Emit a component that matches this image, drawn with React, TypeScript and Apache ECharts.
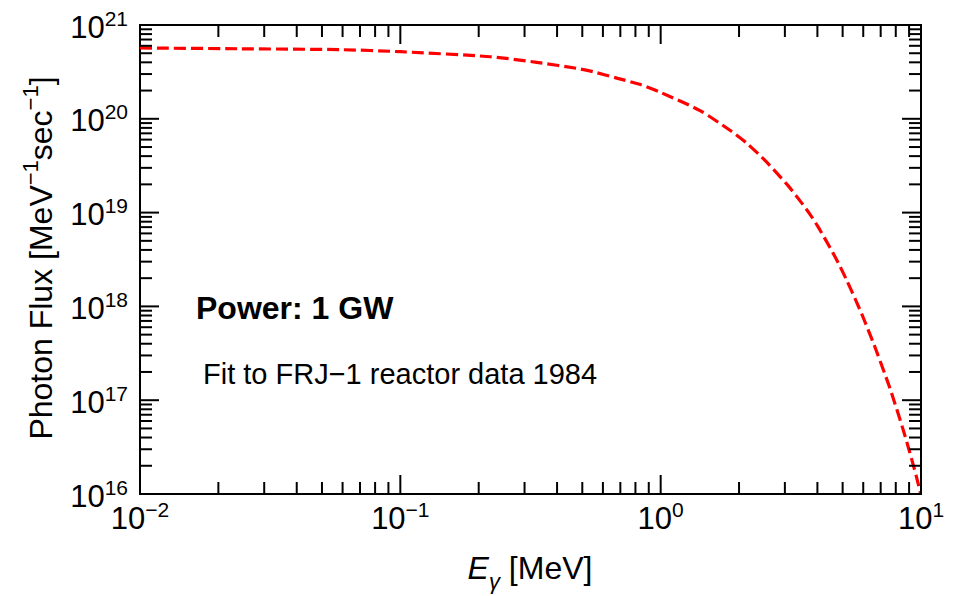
import React, { useEffect, useRef } from "react";
import * as echarts from "echarts";

const energy = [0.01, 0.0242, 0.0586, 0.1, 0.221, 0.334, 0.476, 0.549, 0.684, 0.83, 1.0, 1.41, 1.84, 2.14, 2.55, 3.08, 3.42, 3.73, 4.02, 4.34, 4.59, 4.86, 5.18, 5.65, 5.98, 6.52, 6.73, 7.57, 8.51, 9.04, 9.59, 9.95];
const flux = [5.69e20, 5.58e20, 5.46e20, 5.19e20, 4.59e20, 4.0e20, 3.45e20, 3.18e20, 2.7e20, 2.33e20, 1.91e20, 1.23e20, 7.59e19, 5.5e19, 3.47e19, 1.95e19, 1.35e19, 9.77e18, 7.08e18, 4.9e18, 3.72e18, 2.75e18, 1.91e18, 1.12e18, 7.76e17, 4.27e17, 3.39e17, 1.38e17, 5.01e16, 2.82e16, 1.55e16, 1.02e16];

const xDecades = [-2, -1, 0, 1];
const yDecades = [16, 17, 18, 19, 20, 21];
const minorMultipliers = [2, 3, 4, 5, 6, 7, 8, 9];

const xMin = 0.01, xMax = 10, yMin = 1e16, yMax = 1e21;

const FONT = "'Liberation Sans', Arial, Helvetica, sans-serif";

function buildTicks(decades: number[], maxVal: number) {
  const out: [number, number][] = [];
  decades.forEach((d) => {
    const base = Math.pow(10, d);
    out.push([base, 1]);
    minorMultipliers.forEach((m) => {
      const v = m * base;
      if (v < maxVal * 0.999) out.push([v, 0]);
    });
  });
  return out;
}

const expLabel = (v: number) => {
  const e = Math.round(Math.log10(v));
  const s = e < 0 ? "\u2212" + -e : String(e);
  return `{b|10}{s|${s}}`;
};

const labelRich = {
  b: { fontSize: 31, fontFamily: FONT, color: "#000", lineHeight: 35, verticalAlign: "bottom" },
  s: { fontSize: 21, fontFamily: FONT, color: "#000", lineHeight: 35, verticalAlign: "top" },
};

export default function App() {
  const ref = useRef<HTMLDivElement>(null);
  useEffect(() => {
    document.body.style.margin = "0";
    const chart = echarts.init(ref.current!, null, { renderer: "svg" });
    const xTicks = buildTicks(xDecades, xMax).map(([v, m]) => [v, yMin, m]);
    const yTicks = buildTicks(yDecades, yMax).map(([v, m]) => [xMin, v, m]);
    const TW = 2;
    chart.setOption({
      animation: false,
      grid: { left: 140, top: 25, width: 781, height: 469, show: true, borderColor: "#000", borderWidth: 2, backgroundColor: "transparent" },
      xAxis: {
        type: "log", logBase: 10, min: xMin, max: xMax, interval: 1,
        axisLine: { lineStyle: { color: "#000", width: 2 } },
        axisTick: { show: false }, splitLine: { show: false }, minorTick: { show: false },
        axisLabel: { formatter: expLabel, rich: labelRich, margin: 5 },
      },
      yAxis: {
        type: "log", logBase: 10, min: yMin, max: yMax, interval: 1,
        axisLine: { lineStyle: { color: "#000", width: 2 } },
        axisTick: { show: false }, splitLine: { show: false }, minorTick: { show: false },
        axisLabel: { formatter: expLabel, rich: labelRich, margin: 12 },
      },
      series: [
        {
          type: "line",
          data: energy.map((e, i) => [e, flux[i]]),
          showSymbol: false,
          smooth: 0.25,
          lineStyle: { color: "#ff0000", width: 3.2, type: [12, 5] },
          z: 3,
        },
        {
          type: "custom", silent: true, data: xTicks, z: 4,
          renderItem: (params: any, api: any) => {
            const v = api.value(0);
            const len = api.value(2) ? 19 : 12;
            const p = api.coord([v, yMin]);
            const cs = params.coordSys;
            const bottom = cs.y + cs.height;
            return {
              type: "group",
              children: [
                { type: "line", shape: { x1: p[0], y1: bottom, x2: p[0], y2: bottom - len }, style: { stroke: "#000", lineWidth: TW } },
                { type: "line", shape: { x1: p[0], y1: cs.y, x2: p[0], y2: cs.y + len }, style: { stroke: "#000", lineWidth: TW } },
              ],
            };
          },
        },
        {
          type: "custom", silent: true, data: yTicks, z: 4,
          renderItem: (params: any, api: any) => {
            const v = api.value(1);
            const len = api.value(2) ? 19 : 12;
            const p = api.coord([xMin, v]);
            const cs = params.coordSys;
            const right = cs.x + cs.width;
            return {
              type: "group",
              children: [
                { type: "line", shape: { x1: cs.x, y1: p[1], x2: cs.x + len, y2: p[1] }, style: { stroke: "#000", lineWidth: TW } },
                { type: "line", shape: { x1: right, y1: p[1], x2: right - len, y2: p[1] }, style: { stroke: "#000", lineWidth: TW } },
              ],
            };
          },
        },
      ],
      graphic: [
        {
          type: "text", x: 196, y: 308,
          style: { text: "Power: 1 GW", font: `bold 32px ${FONT}`, fill: "#000", align: "left", verticalAlign: "middle" },
        },
        {
          type: "text", x: 203, y: 374,
          style: { text: "Fit to FRJ\u22121 reactor data 1984", font: `29px ${FONT}`, fill: "#000", align: "left", verticalAlign: "middle" },
        },
        {
          type: "text", x: 530, y: 572,
          style: {
            text: "{i|E}{g|\u03b3}{n| [MeV]}",
            align: "center", verticalAlign: "middle",
            rich: {
              i: { fontSize: 32, fontStyle: "italic", fontFamily: FONT, color: "#000", lineHeight: 40, verticalAlign: "top" },
              g: { fontSize: 22, fontStyle: "italic", fontFamily: FONT, color: "#000", lineHeight: 40, verticalAlign: "bottom" },
              n: { fontSize: 32, fontFamily: FONT, color: "#000", lineHeight: 40, verticalAlign: "top" },
            },
          },
        },
        {
          type: "text", x: 38, y: 258, rotation: Math.PI / 2,
          style: {
            text: "{n|Photon Flux [MeV}{s|\u22121}{n|sec}{s|\u22121}{n|]}",
            align: "center", verticalAlign: "middle",
            rich: {
              n: { fontSize: 32, fontFamily: FONT, color: "#000", lineHeight: 38, verticalAlign: "bottom" },
              s: { fontSize: 22, fontFamily: FONT, color: "#000", lineHeight: 38, verticalAlign: "top" },
            },
          },
        },
      ],
    });
    return () => chart.dispose();
  }, []);
  return <div ref={ref} style={{ width: 956, height: 596 }} />;
}
